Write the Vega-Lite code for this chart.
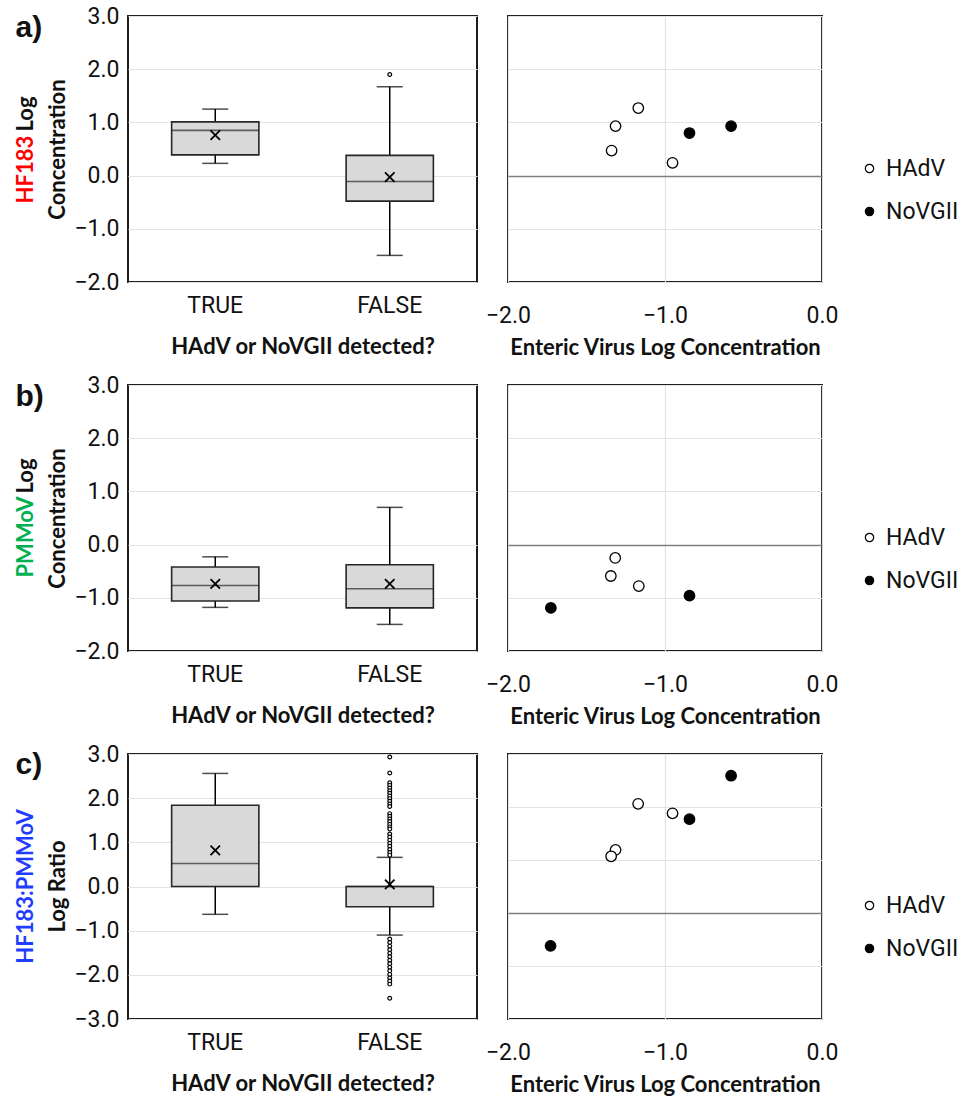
{
  "$schema": "https://vega.github.io/schema/vega-lite/v6.json",
  "padding": {"left": 12, "top": 4, "right": 5, "bottom": 5},
  "background": "white",
  "datasets": {
    "boxA": [
      {"grp": "TRUE", "lo": 0.23, "q1": 0.39, "med": 0.85, "q3": 1.01, "hi": 1.25, "mean": 0.76},
      {"grp": "FALSE", "lo": -1.50, "q1": -0.48, "med": -0.11, "q3": 0.38, "hi": 1.67, "mean": -0.03}
    ],
    "outA": [{"grp": "FALSE", "v": 1.90}],
    "boxB": [
      {"grp": "TRUE", "lo": -1.18, "q1": -1.06, "med": -0.77, "q3": -0.42, "hi": -0.23, "mean": -0.74},
      {"grp": "FALSE", "lo": -1.50, "q1": -1.19, "med": -0.83, "q3": -0.38, "hi": 0.70, "mean": -0.74}
    ],
    "boxC": [
      {"grp": "TRUE", "lo": -0.63, "q1": 0.0, "med": 0.52, "q3": 1.84, "hi": 2.56, "mean": 0.82},
      {"grp": "FALSE", "lo": -1.10, "q1": -0.46, "med": 0.0, "q3": 0.0, "hi": 0.66, "mean": 0.05}
    ],
    "outC": [
      {"grp": "FALSE", "v": 2.93}, {"grp": "FALSE", "v": 2.57}, {"grp": "FALSE", "v": 2.35}, {"grp": "FALSE", "v": 2.29},
      {"grp": "FALSE", "v": 2.23}, {"grp": "FALSE", "v": 2.17}, {"grp": "FALSE", "v": 2.11}, {"grp": "FALSE", "v": 2.05},
      {"grp": "FALSE", "v": 1.99}, {"grp": "FALSE", "v": 1.93}, {"grp": "FALSE", "v": 1.87}, {"grp": "FALSE", "v": 1.81},
      {"grp": "FALSE", "v": 1.65}, {"grp": "FALSE", "v": 1.59}, {"grp": "FALSE", "v": 1.53}, {"grp": "FALSE", "v": 1.47},
      {"grp": "FALSE", "v": 1.41}, {"grp": "FALSE", "v": 1.35}, {"grp": "FALSE", "v": 1.30}, {"grp": "FALSE", "v": 1.19},
      {"grp": "FALSE", "v": 1.12}, {"grp": "FALSE", "v": 1.05}, {"grp": "FALSE", "v": 0.98}, {"grp": "FALSE", "v": 0.91},
      {"grp": "FALSE", "v": 0.84}, {"grp": "FALSE", "v": 0.77}, {"grp": "FALSE", "v": 0.71},
      {"grp": "FALSE", "v": -1.19}, {"grp": "FALSE", "v": -1.27}, {"grp": "FALSE", "v": -1.35}, {"grp": "FALSE", "v": -1.43},
      {"grp": "FALSE", "v": -1.51}, {"grp": "FALSE", "v": -1.59}, {"grp": "FALSE", "v": -1.67}, {"grp": "FALSE", "v": -1.75},
      {"grp": "FALSE", "v": -1.83}, {"grp": "FALSE", "v": -1.91}, {"grp": "FALSE", "v": -1.99}, {"grp": "FALSE", "v": -2.07},
      {"grp": "FALSE", "v": -2.14}, {"grp": "FALSE", "v": -2.21}, {"grp": "FALSE", "v": -2.53}
    ],
    "scatA": [
      {"virus": "HAdV", "ev": -1.17, "v": 1.27}, {"virus": "HAdV", "ev": -1.315, "v": 0.93},
      {"virus": "HAdV", "ev": -1.34, "v": 0.47}, {"virus": "HAdV", "ev": -0.952, "v": 0.24},
      {"virus": "NoVGII", "ev": -0.844, "v": 0.80}, {"virus": "NoVGII", "ev": -0.579, "v": 0.93}
    ],
    "scatB": [
      {"virus": "HAdV", "ev": -1.317, "v": -0.25}, {"virus": "HAdV", "ev": -1.345, "v": -0.59},
      {"virus": "HAdV", "ev": -1.167, "v": -0.78},
      {"virus": "NoVGII", "ev": -1.727, "v": -1.19}, {"virus": "NoVGII", "ev": -0.844, "v": -0.96}
    ],
    "scatC": [
      {"virus": "HAdV", "ev": -1.171, "v": 2.06}, {"virus": "HAdV", "ev": -0.952, "v": 1.88},
      {"virus": "HAdV", "ev": -1.315, "v": 1.19}, {"virus": "HAdV", "ev": -1.343, "v": 1.07},
      {"virus": "NoVGII", "ev": -0.579, "v": 2.59}, {"virus": "NoVGII", "ev": -0.844, "v": 1.77},
      {"virus": "NoVGII", "ev": -1.729, "v": -0.62}
    ]
  },
  "columns": 2,
  "spacing": {"row": 103, "column": 31},
  "bounds": "flush",
  "resolve": {
    "scale": {"x": "independent", "y": "independent", "fill": "independent"},
    "legend": {"fill": "independent"},
    "axis": {"x": "independent", "y": "independent"}
  },
  "concat": [
    {
      "width": 349, "height": 266,
      "data": {"name": "boxA"},
      "resolve": {"axis": {"y": "independent"}},
      "encoding": {
        "x": {"field": "grp", "type": "nominal", "sort": ["TRUE", "FALSE"],
              "scale": {"domain": ["TRUE", "FALSE"], "paddingInner": 0.5, "paddingOuter": 0.25},
              "axis": {"title": "HAdV or NoVGII detected?", "labelAngle": 0, "labelPadding": 12, "titlePadding": 19}}
      },
      "layer": [
        {"mark": {"type": "rule", "stroke": "black", "strokeWidth": 1.5},
         "encoding": {"y": {"field": "lo", "type": "quantitative", "scale": {"domain": [-2, 3], "nice": false, "zero": false},
                            "axis": {"orient": "left", "title": "Concentration", "titleX": -64, "titleY": 133, "titleAngle": -90, "titleAlign": "center", "titleBaseline": "alphabetic",
                                     "values": [-2, -1, 0, 1, 2, 3], "format": ".1f", "grid": true, "labelPadding": 9}},
                      "y2": {"field": "hi"}}},
        {"mark": {"type": "bar", "fill": "#d9d9d9", "stroke": "#262626", "strokeWidth": 1.6},
         "encoding": {"y": {"field": "q1", "type": "quantitative",
                            "axis": {"orient": "left", "title": "HF183", "titleColor": "#ff0000", "titleX": -96, "titleY": 187, "titleAngle": -90, "titleAlign": "left", "titleBaseline": "alphabetic",
                                     "labels": false, "grid": false, "ticks": false, "domain": false}},
                      "y2": {"field": "q3"}}},
        {"mark": {"type": "tick", "color": "#262626", "size": 87, "thickness": 1.6},
         "encoding": {"y": {"field": "med", "type": "quantitative",
                            "axis": {"orient": "left", "title": "Log", "titleX": -96, "titleY": 80, "titleAngle": -90, "titleAlign": "right", "titleBaseline": "alphabetic",
                                     "labels": false, "grid": false, "ticks": false, "domain": false}}}},
        {"mark": {"type": "tick", "color": "black", "size": 26, "thickness": 1.5},
         "encoding": {"y": {"field": "lo", "type": "quantitative", "axis": null}}},
        {"mark": {"type": "tick", "color": "black", "size": 26, "thickness": 1.5},
         "encoding": {"y": {"field": "hi", "type": "quantitative", "axis": null}}},
        {"mark": {"type": "point", "shape": "M-1,-1L1,1M1,-1L-1,1", "size": 90, "stroke": "black", "strokeWidth": 1.8, "filled": false, "opacity": 1},
         "encoding": {"y": {"field": "mean", "type": "quantitative",
                            "axis": {"orient": "left", "title": "a)", "titleFont": "Liberation Sans", "titleFontSize": 30, "titleAngle": 0, "titleAlign": "left", "titleBaseline": "alphabetic", "titleX": -113, "titleY": 20,
                                     "labels": false, "grid": false, "ticks": false, "domain": false}}}},
        {"data": {"name": "outA"},
         "mark": {"type": "point", "shape": "circle", "size": 14, "stroke": "black", "strokeWidth": 1.2, "fill": "white", "filled": true, "opacity": 1},
         "encoding": {"y": {"field": "v", "type": "quantitative", "axis": null}}}
      ]
    },
    {
      "width": 314, "height": 266,
      "data": {"name": "scatA"},
      "mark": {"type": "point", "filled": true, "size": 110, "stroke": "black", "strokeWidth": 1.3, "opacity": 1},
      "encoding": {
        "x": {"field": "ev", "type": "quantitative", "scale": {"domain": [-2, 0], "nice": false, "zero": false},
              "axis": {"title": "Enteric Virus Log Concentration", "values": [-2, -1, 0], "format": ".1f", "grid": true, "labelPadding": 22, "titlePadding": 10, "labelFlush": false}},
        "y": {"field": "v", "type": "quantitative", "scale": {"domain": [-2, 3], "nice": false, "zero": false},
              "axis": {"title": null, "labels": false, "values": [-2, -1, 0, 1, 2, 3], "grid": true,
                       "gridColor": {"condition": {"test": "datum.value === 0", "value": "#7f7f7f"}, "value": "#e3e3e3"},
                       "gridWidth": {"condition": {"test": "datum.value === 0", "value": 1.5}, "value": 1.2}}},
        "fill": {"field": "virus", "type": "nominal", "scale": {"domain": ["HAdV", "NoVGII"], "range": ["white", "black"]},
                 "legend": {"title": null, "orient": "none", "legendX": 350, "legendY": 141}}
      }
    },
    {
      "width": 349, "height": 266,
      "data": {"name": "boxB"},
      "resolve": {"axis": {"y": "independent"}},
      "encoding": {
        "x": {"field": "grp", "type": "nominal", "sort": ["TRUE", "FALSE"],
              "scale": {"domain": ["TRUE", "FALSE"], "paddingInner": 0.5, "paddingOuter": 0.25},
              "axis": {"title": "HAdV or NoVGII detected?", "labelAngle": 0, "labelPadding": 12, "titlePadding": 19}}
      },
      "layer": [
        {"mark": {"type": "rule", "stroke": "black", "strokeWidth": 1.5},
         "encoding": {"y": {"field": "lo", "type": "quantitative", "scale": {"domain": [-2, 3], "nice": false, "zero": false},
                            "axis": {"orient": "left", "title": "Concentration", "titleX": -64, "titleY": 133, "titleAngle": -90, "titleAlign": "center", "titleBaseline": "alphabetic",
                                     "values": [-2, -1, 0, 1, 2, 3], "format": ".1f", "grid": true, "labelPadding": 9}},
                      "y2": {"field": "hi"}}},
        {"mark": {"type": "bar", "fill": "#d9d9d9", "stroke": "#262626", "strokeWidth": 1.6},
         "encoding": {"y": {"field": "q1", "type": "quantitative",
                            "axis": {"orient": "left", "title": "PMMoV", "titleColor": "#00b050", "titleX": -96, "titleY": 192, "titleAngle": -90, "titleAlign": "left", "titleBaseline": "alphabetic",
                                     "labels": false, "grid": false, "ticks": false, "domain": false}},
                      "y2": {"field": "q3"}}},
        {"mark": {"type": "tick", "color": "#262626", "size": 87, "thickness": 1.6},
         "encoding": {"y": {"field": "med", "type": "quantitative",
                            "axis": {"orient": "left", "title": "Log", "titleX": -96, "titleY": 73, "titleAngle": -90, "titleAlign": "right", "titleBaseline": "alphabetic",
                                     "labels": false, "grid": false, "ticks": false, "domain": false}}}},
        {"mark": {"type": "tick", "color": "black", "size": 26, "thickness": 1.5},
         "encoding": {"y": {"field": "lo", "type": "quantitative", "axis": null}}},
        {"mark": {"type": "tick", "color": "black", "size": 26, "thickness": 1.5},
         "encoding": {"y": {"field": "hi", "type": "quantitative", "axis": null}}},
        {"mark": {"type": "point", "shape": "M-1,-1L1,1M1,-1L-1,1", "size": 90, "stroke": "black", "strokeWidth": 1.8, "filled": false, "opacity": 1},
         "encoding": {"y": {"field": "mean", "type": "quantitative",
                            "axis": {"orient": "left", "title": "b)", "titleFont": "Liberation Sans", "titleFontSize": 30, "titleAngle": 0, "titleAlign": "left", "titleBaseline": "alphabetic", "titleX": -113, "titleY": 20,
                                     "labels": false, "grid": false, "ticks": false, "domain": false}}}}
      ]
    },
    {
      "width": 314, "height": 266,
      "data": {"name": "scatB"},
      "mark": {"type": "point", "filled": true, "size": 110, "stroke": "black", "strokeWidth": 1.3, "opacity": 1},
      "encoding": {
        "x": {"field": "ev", "type": "quantitative", "scale": {"domain": [-2, 0], "nice": false, "zero": false},
              "axis": {"title": "Enteric Virus Log Concentration", "values": [-2, -1, 0], "format": ".1f", "grid": true, "labelPadding": 22, "titlePadding": 10, "labelFlush": false}},
        "y": {"field": "v", "type": "quantitative", "scale": {"domain": [-2, 3], "nice": false, "zero": false},
              "axis": {"title": null, "labels": false, "values": [-2, -1, 0, 1, 2, 3], "grid": true,
                       "gridColor": {"condition": {"test": "datum.value === 0", "value": "#7f7f7f"}, "value": "#e3e3e3"},
                       "gridWidth": {"condition": {"test": "datum.value === 0", "value": 1.5}, "value": 1.2}}},
        "fill": {"field": "virus", "type": "nominal", "scale": {"domain": ["HAdV", "NoVGII"], "range": ["white", "black"]},
                 "legend": {"title": null, "orient": "none", "legendX": 350, "legendY": 141}}
      }
    },
    {
      "width": 349, "height": 265,
      "data": {"name": "boxC"},
      "resolve": {"axis": {"y": "independent"}},
      "encoding": {
        "x": {"field": "grp", "type": "nominal", "sort": ["TRUE", "FALSE"],
              "scale": {"domain": ["TRUE", "FALSE"], "paddingInner": 0.5, "paddingOuter": 0.25},
              "axis": {"title": "HAdV or NoVGII detected?", "labelAngle": 0, "labelPadding": 12, "titlePadding": 19}}
      },
      "layer": [
        {"mark": {"type": "rule", "stroke": "black", "strokeWidth": 1.5},
         "encoding": {"y": {"field": "lo", "type": "quantitative", "scale": {"domain": [-3, 3], "nice": false, "zero": false},
                            "axis": {"orient": "left", "title": "Log Ratio", "titleX": -64, "titleY": 132, "titleAngle": -90, "titleAlign": "center", "titleBaseline": "alphabetic",
                                     "values": [-3, -2, -1, 0, 1, 2, 3], "format": ".1f", "grid": true, "labelPadding": 9}},
                      "y2": {"field": "hi"}}},
        {"mark": {"type": "bar", "fill": "#d9d9d9", "stroke": "#262626", "strokeWidth": 1.6},
         "encoding": {"y": {"field": "q1", "type": "quantitative",
                            "axis": {"orient": "left", "title": "HF183:PMMoV", "titleColor": "#1f3dff", "titleX": -96, "titleY": 132, "titleAngle": -90, "titleAlign": "center", "titleBaseline": "alphabetic",
                                     "labels": false, "grid": false, "ticks": false, "domain": false}},
                      "y2": {"field": "q3"}}},
        {"mark": {"type": "tick", "color": "#262626", "size": 87, "thickness": 1.6},
         "encoding": {"y": {"field": "med", "type": "quantitative",
                            "axis": {"orient": "left", "title": "c)", "titleFont": "Liberation Sans", "titleFontSize": 30, "titleAngle": 0, "titleAlign": "left", "titleBaseline": "alphabetic", "titleX": -113, "titleY": 19,
                                     "labels": false, "grid": false, "ticks": false, "domain": false}}}},
        {"mark": {"type": "tick", "color": "black", "size": 26, "thickness": 1.5},
         "encoding": {"y": {"field": "lo", "type": "quantitative", "axis": null}}},
        {"mark": {"type": "tick", "color": "black", "size": 26, "thickness": 1.5},
         "encoding": {"y": {"field": "hi", "type": "quantitative", "axis": null}}},
        {"mark": {"type": "point", "shape": "M-1,-1L1,1M1,-1L-1,1", "size": 90, "stroke": "black", "strokeWidth": 1.8, "filled": false, "opacity": 1},
         "encoding": {"y": {"field": "mean", "type": "quantitative", "axis": null}}},
        {"data": {"name": "outC"},
         "mark": {"type": "point", "shape": "circle", "size": 14, "stroke": "black", "strokeWidth": 1.2, "fill": "white", "filled": true, "opacity": 1},
         "encoding": {"y": {"field": "v", "type": "quantitative", "axis": null}}}
      ]
    },
    {
      "width": 314, "height": 265,
      "data": {"name": "scatC"},
      "mark": {"type": "point", "filled": true, "size": 110, "stroke": "black", "strokeWidth": 1.3, "opacity": 1},
      "encoding": {
        "x": {"field": "ev", "type": "quantitative", "scale": {"domain": [-2, 0], "nice": false, "zero": false},
              "axis": {"title": "Enteric Virus Log Concentration", "values": [-2, -1, 0], "format": ".1f", "grid": true, "labelPadding": 22, "titlePadding": 10, "labelFlush": false}},
        "y": {"field": "v", "type": "quantitative", "scale": {"domain": [-2, 3], "nice": false, "zero": false},
              "axis": {"title": null, "labels": false, "values": [-2, -1, 0, 1, 2, 3], "grid": true,
                       "gridColor": {"condition": {"test": "datum.value === 0", "value": "#7f7f7f"}, "value": "#e3e3e3"},
                       "gridWidth": {"condition": {"test": "datum.value === 0", "value": 1.5}, "value": 1.2}}},
        "fill": {"field": "virus", "type": "nominal", "scale": {"domain": ["HAdV", "NoVGII"], "range": ["white", "black"]},
                 "legend": {"title": null, "orient": "none", "legendX": 350, "legendY": 140}}
      }
    }
  ],
  "config": {
    "view": {"stroke": "#1f1f1f", "strokeWidth": 2},
    "axis": {"labelFont": "Roboto", "labelFontSize": 23, "labelColor": "#111111", "titleFont": "Lato", "titleFontSize": 22, "titleFontWeight": "bold", "titleColor": "#111111",
             "gridColor": "#e3e3e3", "gridWidth": 1.2, "ticks": false, "domain": false},
    "legend": {"labelFont": "Roboto", "labelFontSize": 23, "labelColor": "#111111", "symbolSize": 70, "symbolStrokeColor": "black", "symbolStrokeWidth": 1.2,
               "rowPadding": 19, "labelOffset": 5, "padding": 0}
  }
}
